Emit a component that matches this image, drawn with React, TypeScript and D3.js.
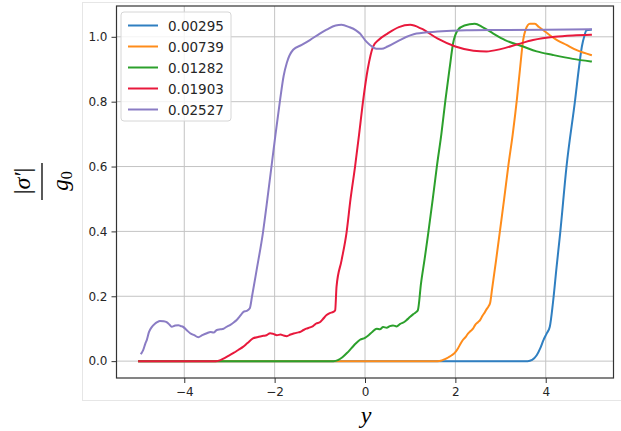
import React, { useRef, useEffect } from 'react';
import * as d3 from 'd3';

// series labels (legend) and colours
const labels = ['0.00295', '0.00739', '0.01282', '0.01903', '0.02527'];
const colors = ['#2f7fc1', '#ff8c1a', '#2ca02c', '#e8193c', '#8a7cc4'];

const xTicks = [-4, -2, 0, 2, 4];
const yTicks = [0, 0.2, 0.4, 0.6, 0.8, 1.0];

// [y, |sigma'|/g0]
const s00295: [number, number][] = [
  [-5, 0], [3.6, 0], [3.7, 0.004], [3.8, 0.018], [3.88, 0.04], [3.95, 0.065], [4.02, 0.085],
  [4.09, 0.106], [4.16, 0.18], [4.24, 0.29], [4.32, 0.395], [4.46, 0.6], [4.65, 0.805],
  [4.74, 0.91], [4.8, 0.97], [4.86, 1.005], [4.9, 1.02], [5, 1.022]
];
const s00739: [number, number][] = [
  [-5, 0], [1.6, 0], [1.7, 0.002], [1.77, 0.006], [1.85, 0.012], [1.92, 0.018], [1.99, 0.026],
  [2.06, 0.04], [2.12, 0.055], [2.17, 0.066], [2.23, 0.075], [2.28, 0.085], [2.33, 0.092],
  [2.39, 0.1], [2.44, 0.112], [2.5, 0.12], [2.55, 0.127], [2.6, 0.14], [2.65, 0.15],
  [2.7, 0.162], [2.73, 0.168], [2.77, 0.18], [2.81, 0.22], [2.9, 0.31], [2.99, 0.405],
  [3.08, 0.5], [3.17, 0.6], [3.27, 0.7], [3.36, 0.805], [3.43, 0.9], [3.5, 0.99],
  [3.55, 1.02], [3.65, 1.04], [3.76, 1.04], [3.85, 1.03], [4.0, 1.015], [4.09, 1.005],
  [4.25, 0.99], [4.46, 0.975], [4.7, 0.958], [5, 0.944]
];
const s01282: [number, number][] = [
  [-5, 0], [-0.7, 0], [-0.6, 0.003], [-0.5, 0.012], [-0.4, 0.025], [-0.3, 0.04], [-0.2, 0.055],
  [-0.11, 0.066], [0, 0.072], [0.08, 0.08], [0.16, 0.09], [0.26, 0.1], [0.33, 0.098],
  [0.4, 0.105], [0.48, 0.103], [0.55, 0.108], [0.62, 0.11], [0.7, 0.107], [0.78, 0.115],
  [0.86, 0.12], [0.93, 0.128], [1.0, 0.137], [1.07, 0.145], [1.12, 0.15], [1.17, 0.157],
  [1.24, 0.24], [1.32, 0.315], [1.4, 0.395], [1.5, 0.5], [1.59, 0.6], [1.69, 0.7],
  [1.78, 0.805], [1.87, 0.9], [1.95, 0.98], [2.05, 1.02], [2.2, 1.035], [2.43, 1.04],
  [2.6, 1.03], [2.84, 1.01], [3.1, 0.99], [3.5, 0.97], [3.8, 0.955], [4.16, 0.944],
  [4.6, 0.932], [5, 0.924]
];
const s01903: [number, number][] = [
  [-5, 0], [-3.3, 0], [-3.2, 0.003], [-3.1, 0.01], [-3.0, 0.018], [-2.9, 0.026], [-2.8, 0.035],
  [-2.7, 0.044], [-2.6, 0.056], [-2.48, 0.07], [-2.35, 0.075], [-2.25, 0.078], [-2.18, 0.08],
  [-2.1, 0.086], [-2.03, 0.084], [-1.95, 0.08], [-1.87, 0.082], [-1.8, 0.079], [-1.73, 0.077],
  [-1.65, 0.082], [-1.58, 0.085], [-1.5, 0.088], [-1.44, 0.09], [-1.36, 0.096], [-1.3, 0.1],
  [-1.22, 0.104], [-1.15, 0.108], [-1.08, 0.116], [-1.0, 0.12], [-0.93, 0.13], [-0.85, 0.142],
  [-0.78, 0.148], [-0.7, 0.152], [-0.66, 0.157], [-0.63, 0.23], [-0.52, 0.31], [-0.41, 0.395],
  [-0.32, 0.5], [-0.22, 0.6], [-0.13, 0.7], [-0.04, 0.805], [0.06, 0.9], [0.18, 0.97],
  [0.3, 0.99], [0.5, 1.01], [0.75, 1.03], [1.0, 1.037], [1.25, 1.025], [1.6, 0.995],
  [2.0, 0.97], [2.4, 0.957], [2.69, 0.955], [3.0, 0.962], [3.4, 0.978], [3.72, 0.99],
  [4.2, 1.0], [4.6, 1.004], [5, 1.006]
];
const s02527: [number, number][] = [
  [-4.95, 0.024], [-4.91, 0.034], [-4.86, 0.055], [-4.83, 0.065], [-4.78, 0.09], [-4.72, 0.105],
  [-4.65, 0.115], [-4.6, 0.12], [-4.54, 0.124], [-4.46, 0.123], [-4.39, 0.12], [-4.33, 0.113],
  [-4.28, 0.106], [-4.2, 0.11], [-4.13, 0.111], [-4.08, 0.108], [-4.03, 0.106], [-3.95, 0.096],
  [-3.87, 0.086], [-3.78, 0.08], [-3.69, 0.074], [-3.6, 0.08], [-3.5, 0.086], [-3.42, 0.09],
  [-3.35, 0.088], [-3.28, 0.096], [-3.2, 0.098], [-3.13, 0.1], [-3.06, 0.106], [-2.98, 0.112],
  [-2.9, 0.12], [-2.84, 0.127], [-2.76, 0.14], [-2.69, 0.152], [-2.62, 0.155], [-2.55, 0.163],
  [-2.5, 0.2], [-2.4, 0.28], [-2.26, 0.395], [-2.16, 0.5], [-2.07, 0.6], [-1.98, 0.7],
  [-1.88, 0.805], [-1.8, 0.88], [-1.73, 0.92], [-1.59, 0.96], [-1.4, 0.975], [-1.22, 0.99],
  [-1.0, 1.01], [-0.85, 1.022], [-0.65, 1.035], [-0.52, 1.037], [-0.35, 1.03], [-0.2, 1.02],
  [-0.11, 1.01], [0, 0.99], [0.11, 0.975], [0.25, 0.963], [0.37, 0.963], [0.5, 0.97],
  [0.77, 0.99], [1.14, 1.01], [1.6, 1.016], [2.25, 1.02], [3, 1.021], [4, 1.022], [5, 1.023]
];

const series = [s00295, s00739, s01282, s01903, s02527];

const W = 621;
const H = 431;
const left = 116.5, right = 613.5, top = 6, bottom = 378;

export default function App() {
  const svgRef = useRef<SVGSVGElement>(null);

  useEffect(() => {
    const svg = d3.select(svgRef.current);
    svg.selectAll('*').remove();

    const x = d3.scaleLinear().domain([-5.5, 5.5]).range([left, right]);
    const y = d3.scaleLinear().domain([-0.052, 1.095]).range([bottom, top]);

    svg.append('rect').attr('width', W).attr('height', H).attr('fill', '#fff');
    // faint outer frame from the screenshot
    svg.append('rect')
      .attr('x', 82.5).attr('y', 2.5).attr('width', W).attr('height', 398)
      .attr('fill', 'none').attr('stroke', '#e6e6e6');

    // grid
    const grid = svg.append('g').attr('stroke', '#c4c4c4').attr('stroke-width', 1);
    grid.selectAll('.vx').data(xTicks).join('line')
      .attr('x1', (d) => x(d)).attr('x2', (d) => x(d)).attr('y1', top).attr('y2', bottom);
    grid.selectAll('.hy').data(yTicks).join('line')
      .attr('y1', (d) => y(d)).attr('y2', (d) => y(d)).attr('x1', left).attr('x2', right);

    // lines
    const line = d3.line<[number, number]>()
      .x((d) => x(d[0]))
      .y((d) => y(d[1]))
      .curve(d3.curveMonotoneX);

    svg.append('g').selectAll('path').data(series).join('path')
      .attr('d', (d) => line(d))
      .attr('fill', 'none')
      .attr('stroke', (_, i) => colors[i])
      .attr('stroke-width', 2)
      .attr('stroke-linejoin', 'round')
      .attr('stroke-linecap', 'square');

    // axes
    const fmtX = (d: any) => (d < 0 ? '\u2212' + Math.abs(d) : String(d));
    const xAxis = d3.axisBottom(x).tickValues(xTicks).tickSize(5).tickPadding(4).tickFormat(fmtX);
    const yAxis = d3.axisLeft(y).tickValues(yTicks).tickSize(5).tickPadding(4).tickFormat(d3.format('.1f'));

    const gx = svg.append('g').attr('transform', `translate(0,${bottom})`).call(xAxis);
    const gy = svg.append('g').attr('transform', `translate(${left},0)`).call(yAxis);
    [gx, gy].forEach((g) => {
      g.select('.domain').remove();
      g.selectAll('.tick line').attr('stroke', '#333');
      g.selectAll('.tick text')
        .attr('fill', '#262626')
        .style('font-family', 'DejaVu Sans')
        .style('font-size', '12px');
    });

    svg.append('rect')
      .attr('x', left).attr('y', top)
      .attr('width', right - left).attr('height', bottom - top)
      .attr('fill', 'none').attr('stroke', '#333').attr('stroke-width', 1.2);

    // legend
    const lg = svg.append('g');
    lg.append('rect')
      .attr('x', 121).attr('y', 12).attr('width', 110).attr('height', 109).attr('rx', 3)
      .attr('fill', '#fff').attr('fill-opacity', 0.8).attr('stroke', '#d6d6d6');
    labels.forEach((lab, i) => {
      const yy = 25.5 + i * 21;
      lg.append('line')
        .attr('x1', 128).attr('x2', 158).attr('y1', yy).attr('y2', yy)
        .attr('stroke', colors[i]).attr('stroke-width', 2);
      lg.append('text')
        .attr('x', 168).attr('y', yy + 5)
        .attr('fill', '#262626')
        .style('font-family', 'DejaVu Sans')
        .style('font-size', '13.5px')
        .text(lab);
    });

    // x label
    svg.append('text')
      .attr('x', 366).attr('y', 423)
      .attr('text-anchor', 'middle')
      .style('font-family', 'Liberation Serif')
      .style('font-style', 'italic')
      .style('font-size', '24px')
      .text('y');

    // y label: |sigma'| / g0, rotated
    const yl = svg.append('g').attr('transform', 'translate(42,181) rotate(-90)');
    const num = yl.append('text')
      .attr('x', 0).attr('y', -12)
      .attr('text-anchor', 'middle')
      .style('font-family', 'Liberation Serif')
      .style('font-size', '24px');
    num.append('tspan').text('|');
    num.append('tspan').style('font-style', 'italic').text('\u03C3\u2032');
    num.append('tspan').text('|');
    yl.append('line')
      .attr('x1', -19).attr('x2', 18).attr('y1', 0).attr('y2', 0)
      .attr('stroke', '#000').attr('stroke-width', 1.3);
    const den = yl.append('text')
      .attr('x', 0).attr('y', 26)
      .attr('text-anchor', 'middle')
      .style('font-family', 'Liberation Serif')
      .style('font-size', '23px');
    den.append('tspan').style('font-style', 'italic').text('g');
    den.append('tspan').attr('dy', 4).style('font-size', '16px').text('0');
  }, []);

  return (
    <svg
      ref={svgRef}
      width={W}
      height={H}
      style={{ position: 'absolute', left: 0, top: 0 }}
    />
  );
}
